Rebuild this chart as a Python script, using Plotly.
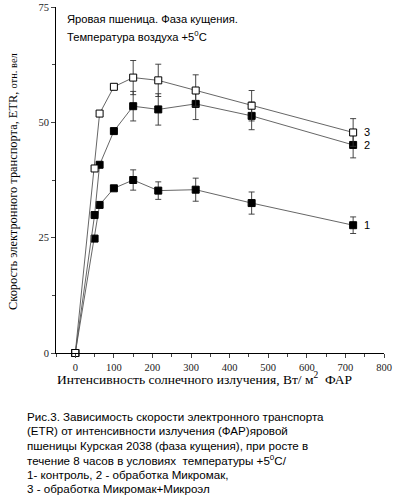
import plotly.graph_objects as go

# ---- data ----
x_vals = [0, 50, 63, 100, 150, 215, 312, 457, 720]
s1 = [0, 24.8, 32.1, 35.7, 37.5, 35.2, 35.4, 32.5, 27.7]
s2 = [0, 29.9, 40.8, 48.1, 53.5, 52.8, 54.0, 51.4, 45.1]
s3 = [0, 40.0, 51.9, 57.7, 59.7, 59.1, 56.9, 53.6, 47.8]
e1 = [None, None, None, None, 2.2, 1.9, 2.5, 2.4, 1.8]
e2 = [None, None, None, None, 3.2, 3.4, 3.4, 3.0, 2.8]
e3 = [None, None, None, None, 3.7, 3.5, 3.4, 3.3, 3.0]
series_labels = ["1", "2", "3"]
y_ticks = [0, 25, 50, 75]
x_ticks = [0, 100, 200, 300, 400, 500, 600, 700, 800]

W, H = 395, 502
L, R, T, B = 56, 11, 7, 149
pw, ph = W - L - R, H - T - B


def px_x(p):
    return (p - L) / pw


def px_y(p):
    return (H - B - p) / ph


fig = go.Figure()
for ys, es, filled in [(s1, e1, True), (s2, e2, True), (s3, e3, False)]:
    fig.add_trace(go.Scatter(
        x=x_vals, y=ys, mode="lines+markers",
        line=dict(color="#555555", width=0.9),
        marker=dict(symbol="square", size=7,
                    color="black" if filled else "white",
                    line=dict(color="black", width=1)),
        error_y=dict(type="data", array=es, visible=True, color="#333333",
                     thickness=0.9, width=3),
        cliponaxis=False, showlegend=False,
    ))

fig.update_layout(
    width=W, height=H,
    margin=dict(l=L, r=R, t=T, b=B, autoexpand=False),
    paper_bgcolor="white", plot_bgcolor="white",
    font=dict(family="Liberation Serif, Times New Roman, serif", color="black", size=11),
)
fig.update_xaxes(
    range=[-50, 800], tickvals=x_ticks, ticks="outside", ticklen=4, tickwidth=1,
    minor=dict(dtick=50, tick0=0, ticks="outside", ticklen=3, tickwidth=1),
    showline=True, linecolor="black", linewidth=1, showgrid=False, zeroline=False,
    tickfont=dict(size=10.5, color="#222"),
)
fig.update_yaxes(
    range=[0, 75], tickvals=y_ticks, ticks="outside", ticklen=4, tickwidth=1,
    minor=dict(dtick=12.5, tick0=0, ticks="outside", ticklen=3, tickwidth=1),
    showline=True, linecolor="black", linewidth=1, showgrid=False, zeroline=False,
    tickfont=dict(size=10.5, color="#222"),
)

ann = []
sans = "Liberation Sans, Arial, sans-serif"
ann.append(dict(x=px_x(65), y=px_y(19), xref="paper", yref="paper", xanchor="left", yanchor="middle",
                text="Яровая пшеница. Фаза кущения.", showarrow=False, font=dict(family=sans, size=11.2)))
ann.append(dict(x=px_x(65), y=px_y(36), xref="paper", yref="paper", xanchor="left", yanchor="middle",
                text="Температура воздуха +5<sup>0</sup>C", showarrow=False, font=dict(family=sans, size=11.2)))
# series labels
for lab, ys in zip(series_labels, [s1, s2, s3]):
    ann.append(dict(x=742, y=ys[-1], xref="x", yref="y", xanchor="left", yanchor="middle",
                    text=lab, showarrow=False, font=dict(family=sans, size=11)))
# axis titles
ann.append(dict(x=px_x(13), y=px_y(182), xref="paper", yref="paper", xanchor="center", yanchor="middle",
                textangle=-90, showarrow=False,
                text="Скорость электронного транспорта, ETR, <span style='font-size:10.5px'>отн. вел</span>",
                font=dict(size=12.4)))
ann.append(dict(x=px_x(55), y=px_y(378), xref="paper", yref="paper", xanchor="left", yanchor="middle",
                showarrow=False, text="Интенсивность солнечного излучения, Вт/ м<sup>2</sup>  ФАР",
                font=dict(size=13.5)))
# caption
caption = [
    "Рис.3. Зависимость скорости электронного транспорта",
    "(ETR) от интенсивности излучения (ФАР)яровой",
    "пшеницы Курская 2038 (фаза кущения), при росте в",
    "течение 8 часов в условиях  температуры +5<sup>0</sup>C/",
    "1- контроль, 2 - обработка Микромак,",
    "3 - обработка Микромак+Микроэл",
]
cap_y = [416, 430.5, 445, 459.5, 474, 488]
for line, yy in zip(caption, cap_y):
    ann.append(dict(x=px_x(25), y=px_y(yy), xref="paper", yref="paper", xanchor="left", yanchor="middle",
                    showarrow=False, text=line, font=dict(family=sans, size=11.6)))
fig.update_layout(annotations=ann)

fig.write_html("out.html", config={"displayModeBar": False},
               post_script="document.body.style.margin='0';document.body.style.overflow='hidden';")
